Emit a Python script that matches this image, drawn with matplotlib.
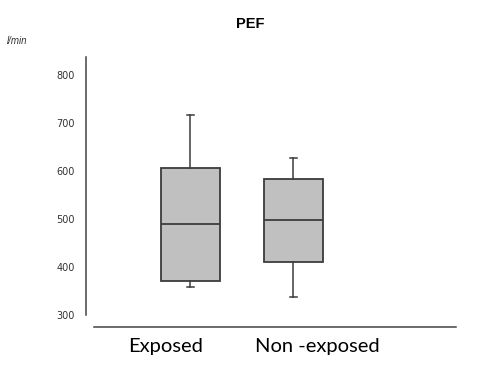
import matplotlib.pyplot as plt

# valori (l/min)
groups = ['Exposed', 'Non -exposed']
whisker_low = [359, 338]
q1 = [371, 410]
median = [490, 497]
q3 = [607, 583]
whisker_high = [717, 628]
y_ticks = [300, 400, 500, 600, 700, 800]

stats = []
for i in range(len(groups)):
    stats.append({'whislo': whisker_low[i], 'q1': q1[i], 'med': median[i],
                  'q3': q3[i], 'whishi': whisker_high[i], 'label': groups[i]})

fig = plt.figure(figsize=(4.82, 3.66), dpi=100)
ax = fig.add_axes([0.195, 0.1066, 0.751, 0.7377])

edge = '#3c3c3c'
ax.bxp(stats, positions=[1, 2], widths=0.57, showfliers=False, patch_artist=True,
       boxprops=dict(facecolor='#c0c0c0', edgecolor=edge, linewidth=1.3),
       medianprops=dict(color=edge, linewidth=1.3),
       whiskerprops=dict(color=edge, linewidth=1.1),
       capprops=dict(color=edge, linewidth=1.1), capwidths=0.075)

ax.set_xlim(0.063, 3.578)
ax.set_ylim(275, 837.5)
ax.set_yticks(y_ticks)
ax.tick_params(axis='y', length=0, pad=8, labelsize=7, labelcolor='#333333')
for lab in ax.get_yticklabels():
    lab.set_family('Liberation Sans')

# etichette dei gruppi spostate come nell'originale
ax.set_xticks([0.762, 2.228])
ax.set_xticklabels(groups, fontsize=14.5, family='Lato')
ax.tick_params(axis='x', length=0, pad=8)

ax.spines['top'].set_visible(False)
ax.spines['right'].set_visible(False)
ax.spines['left'].set_position(('outward', 6))
ax.spines['left'].set_bounds(300, 837.5)
for s in ['left', 'bottom']:
    ax.spines[s].set_color('#444444')
    ax.spines[s].set_linewidth(1.1)

fig.text(250 / 482, 1 - 24 / 366, 'PEF', ha='center', va='center', fontsize=10.5,
         fontweight='bold', family='Liberation Sans')
fig.text(7 / 482, 1 - 41 / 366, 'l/min', ha='left', va='center', fontsize=7,
         family='Liberation Sans', color='#333333', style='italic')

fig.savefig('out.png', dpi=100)
